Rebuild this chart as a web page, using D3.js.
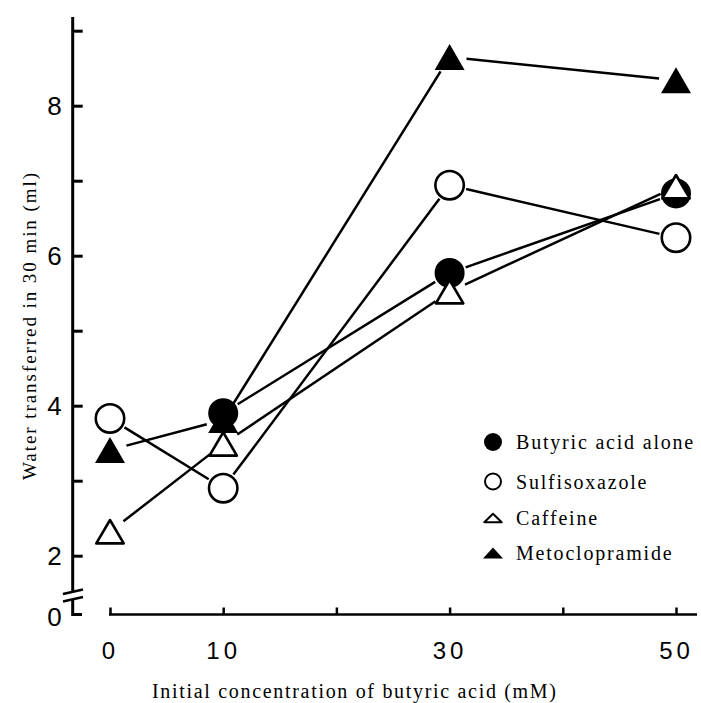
<!DOCTYPE html>
<html>
<head>
<meta charset="utf-8">
<script src="https://cdn.jsdelivr.net/npm/d3@7"></script>
<style>
  html, body { margin: 0; padding: 0; background: #fff; }
  svg { display: block; }
</style>
</head>
<body>
<svg id="chart" width="701" height="703"></svg>
<script>
// ---------------- data ----------------
const concentrations = [0, 10, 30, 50];
const butyricAlone   = [null, 3.90, 5.77, 6.83];
const sulfisoxazole  = [3.83, 2.90, 6.94, 6.24];
const caffeine       = [2.32, 3.49, 5.52, 6.92];
const metoclopramide = [3.41, 3.81, 8.65, 8.34];
const seriesNames = ["Butyric acid alone", "Sulfisoxazole", "Caffeine", "Metoclopramide"];
const yTickValues = [2, 3, 4, 5, 6, 7, 8, 9];
const yTickLabeled = [2, 4, 6, 8];
const yBreakLabel = "0";
const xTickValues = [0, 10, 20, 30, 40, 50];
const xTickLabeled = [0, 10, 30, 50];
const xTitle = "Initial concentration of butyric acid (mM)";
const yTitle = "Water transferred in 30 min (ml)";

// ---------------- layout ----------------
const svg = d3.select("#chart");
svg.append("rect").attr("width", 701).attr("height", 703).attr("fill", "#fff");

const axisX = 72.7, axisY = 614.5;
const x = d3.scaleLinear().domain([0, 50]).range([110, 676]);
const y = d3.scaleLinear().domain([2, 8]).range([555.7, 105.7]);

const series = [
  {name: seriesNames[0], values: butyricAlone,   shape: "circle",   fill: "#000"},
  {name: seriesNames[1], values: sulfisoxazole,  shape: "circle",   fill: "#fff"},
  {name: seriesNames[2], values: caffeine,       shape: "triangle", fill: "#fff"},
  {name: seriesNames[3], values: metoclopramide, shape: "triangle", fill: "#000"}
];

// ---------------- axes ----------------
const yAxis = d3.axisLeft(y)
  .tickValues(yTickValues)
  .tickSize(-10)
  .tickPadding(11)
  .tickFormat(d => yTickLabeled.includes(d) ? String(d) : "");
const gy = svg.append("g").attr("transform", `translate(${axisX},0)`).call(yAxis);
gy.select(".domain").remove();
gy.selectAll(".tick line").attr("stroke", "#000").attr("stroke-width", 3);
gy.selectAll(".tick text")
  .attr("font-family", "'Liberation Sans', Arial, sans-serif")
  .attr("font-size", 26).attr("fill", "#000");

// custom broken y-axis line
const yTop = 17;
svg.append("line").attr("x1", axisX).attr("x2", axisX).attr("y1", yTop).attr("y2", 592)
  .attr("stroke", "#000").attr("stroke-width", 3);
svg.append("line").attr("x1", 63).attr("y1", 594).attr("x2", 83).attr("y2", 589.5)
  .attr("stroke", "#000").attr("stroke-width", 2.5);
svg.append("line").attr("x1", 63).attr("y1", 601.5).attr("x2", 83).attr("y2", 597)
  .attr("stroke", "#000").attr("stroke-width", 2.5);
svg.append("path").attr("d", `M${axisX},600 L${axisX},${axisY} L82,${axisY}`)
  .attr("fill", "none").attr("stroke", "#000").attr("stroke-width", 3);
svg.append("text").attr("x", axisX - 11).attr("y", 618).attr("dy", "0.32em")
  .attr("text-anchor", "end")
  .attr("font-family", "'Liberation Sans', Arial, sans-serif")
  .attr("font-size", 26).text(yBreakLabel);

const xAxis = d3.axisBottom(x)
  .tickValues(xTickValues)
  .tickSize(-7)
  .tickPadding(27)
  .tickFormat(d => xTickLabeled.includes(d) ? String(d) : "");
const gx = svg.append("g").attr("transform", `translate(0,${axisY})`).call(xAxis);
gx.select(".domain").remove();
gx.selectAll(".tick line").attr("stroke", "#000").attr("stroke-width", 2.5);
gx.selectAll(".tick text")
  .attr("font-family", "'Liberation Sans', Arial, sans-serif")
  .attr("font-size", 24).attr("letter-spacing", 4).attr("fill", "#000");
svg.append("line").attr("x1", x(0) - 1).attr("x2", 697).attr("y1", axisY).attr("y2", axisY)
  .attr("stroke", "#000").attr("stroke-width", 2.5);

// titles
svg.append("text")
  .attr("x", 354).attr("y", 698)
  .attr("text-anchor", "middle")
  .attr("font-family", "'Liberation Serif', 'Times New Roman', serif")
  .attr("font-size", 20)
  .attr("textLength", 404).attr("lengthAdjust", "spacing")
  .text(xTitle);
svg.append("text")
  .attr("transform", "translate(36,326.5) rotate(-90)")
  .attr("text-anchor", "middle")
  .attr("font-family", "'Liberation Serif', 'Times New Roman', serif")
  .attr("font-size", 19)
  .attr("textLength", 307).attr("lengthAdjust", "spacing")
  .text(yTitle);

// ---------------- lines (with gaps near markers) ----------------
const gap = 17;
const gLines = svg.append("g");
series.forEach(s => {
  for (let i = 0; i < concentrations.length - 1; i++) {
    const a = s.values[i], b = s.values[i + 1];
    if (a == null || b == null) continue;
    const x1 = x(concentrations[i]), y1 = y(a);
    const x2 = x(concentrations[i + 1]), y2 = y(b);
    const len = Math.hypot(x2 - x1, y2 - y1);
    const ux = (x2 - x1) / len, uy = (y2 - y1) / len;
    gLines.append("line")
      .attr("x1", x1 + ux * gap).attr("y1", y1 + uy * gap)
      .attr("x2", x2 - ux * gap).attr("y2", y2 - uy * gap)
      .attr("stroke", "#000").attr("stroke-width", 2.5);
  }
});

// ---------------- markers ----------------
function drawMarker(g, shape, fill, cx, cy, size) {
  if (shape === "circle") {
    if (fill === "#000") {
      g.append("circle").attr("cx", cx).attr("cy", cy).attr("r", size.rf).attr("fill", "#000");
    } else {
      g.append("circle").attr("cx", cx).attr("cy", cy).attr("r", size.ro)
        .attr("fill", "#fff").attr("stroke", "#000").attr("stroke-width", size.sw);
    }
  } else {
    const hw = fill === "#000" ? size.tw : size.tw - 1.3;
    const hh = fill === "#000" ? size.th : size.th - 1.3;
    const p = d3.path();
    p.moveTo(cx, cy - hh); p.lineTo(cx + hw, cy + hh); p.lineTo(cx - hw, cy + hh); p.closePath();
    const el = g.append("path").attr("d", p.toString()).attr("fill", fill);
    if (fill !== "#000") el.attr("stroke", "#000").attr("stroke-width", size.sw).attr("stroke-linejoin", "round");
  }
}
const bigSize = {rf: 15, ro: 14.2, sw: 2.6, tw: 15, th: 13};
const drawOrder = [1, 3, 0, 2]; // sulfisoxazole, metoclopramide, butyric, caffeine
const gPts = svg.append("g");
drawOrder.forEach(k => {
  const s = series[k];
  s.values.forEach((v, i) => {
    if (v == null) return;
    drawMarker(gPts, s.shape, s.fill, x(concentrations[i]), y(v), bigSize);
  });
});

// ---------------- legend ----------------
const legendRows = [442, 481.5, 518, 553];
const smallSize = {rf: 9, ro: 8, sw: 2, tw: 10, th: 5.5};
const gLeg = svg.append("g");
series.forEach((s, i) => {
  drawMarker(gLeg, s.shape, s.fill, 493, legendRows[i], smallSize);
  gLeg.append("text")
    .attr("x", 516).attr("y", legendRows[i]).attr("dy", "0.35em")
    .attr("font-family", "'Liberation Serif', 'Times New Roman', serif")
    .attr("font-size", 20).attr("letter-spacing", 1.8)
    .text(s.name);
});
</script>
</body>
</html>
